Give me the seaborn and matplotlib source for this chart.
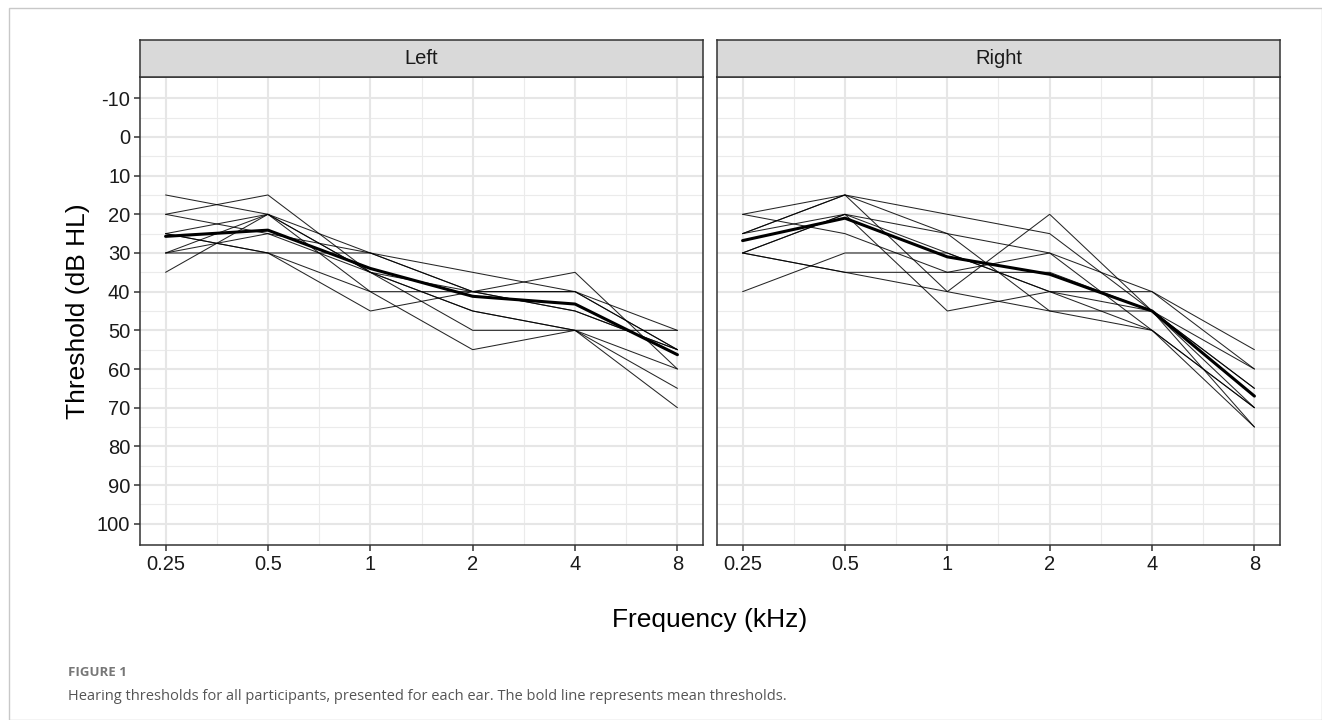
import numpy as np
import pandas as pd
import seaborn as sns
import matplotlib.pyplot as plt
from matplotlib.patches import Rectangle

freqs = [0.25, 0.5, 1, 2, 4, 8]
freq_labels = ["0.25", "0.5", "1", "2", "4", "8"]
ears = ["Left", "Right"]

# thresholds (dB HL) per participant
left_thr = [
    [15, 20, 30, 40, 40, 50],
    [20, 15, 35, 45, 50, 70],
    [20, 25, 30, 35, 40, 55],
    [25, 20, 35, 40, 45, 55],
    [25, 30, 40, 40, 35, 60],
    [30, 20, 35, 50, 50, 50],
    [30, 30, 30, 40, 45, 55],
    [35, 20, 40, 55, 50, 65],
    [25, 30, 45, 40, 40, 55],
    [30, 25, 35, 45, 50, 60],
]
right_thr = [
    [20, 15, 25, 30, 40, 55],
    [25, 15, 40, 20, 45, 65],
    [30, 20, 30, 40, 45, 70],
    [20, 25, 35, 30, 50, 75],
    [30, 35, 35, 35, 45, 60],
    [40, 30, 30, 40, 50, 70],
    [25, 20, 45, 40, 40, 60],
    [30, 20, 25, 45, 45, 75],
    [25, 15, 20, 25, 45, 65],
    [30, 35, 40, 45, 50, 70],
]
left_mean = [25.7, 24.1, 34.0, 41.2, 43.2, 56.3]
right_mean = [26.8, 21.0, 31.0, 35.5, 45.0, 67.0]

y_ticks = list(range(-10, 101, 10))

rows = []
for ear, thr in zip(ears, [left_thr, right_thr]):
    for pid, vals in enumerate(thr):
        for f, v in zip(freqs, vals):
            rows.append({"ear": ear, "pid": pid, "freq": f, "thr": v})
df = pd.DataFrame(rows)
mean_df = pd.DataFrame({
    "ear": np.repeat(ears, len(freqs)),
    "freq": freqs * 2,
    "thr": left_mean + right_mean,
})

sns.set_theme(style="white")
plt.rcParams["font.family"] = ["Liberation Sans", "DejaVu Sans"]

W, H = 1322, 720
fig = plt.figure(figsize=(W / 100, H / 100), dpi=100)
fig.patches.append(Rectangle((9 / W, 0), 1 - 9 / W, 1 - 8 / H, transform=fig.transFigure,
                             fill=False, edgecolor="#c8c8c8", lw=1.0))

panel_x = [(140, 703), (717, 1280)]
top, bottom = 77, 545
strip_top = 40

lo, hi = np.log2(freqs[0]), np.log2(freqs[-1])
pad = (hi - lo) * 0.05
xlim = (2 ** (lo - pad), 2 ** (hi + pad))
ylim = (105.5, -15.5)
minor_x = [2 ** (e + 0.5) for e in range(-2, 3)]
minor_y = list(range(-5, 100, 10))

for i, ear in enumerate(ears):
    x0, x1 = panel_x[i]
    ax = fig.add_axes([x0 / W, 1 - bottom / H, (x1 - x0) / W, (bottom - top) / H])
    ax.set_xscale("log", base=2)
    ax.set_xlim(xlim)
    ax.set_ylim(ylim)
    for m in minor_x:
        ax.axvline(m, color="#ebebeb", lw=0.8, zorder=0)
    for m in minor_y:
        ax.axhline(m, color="#ebebeb", lw=0.8, zorder=0)
    for f in freqs:
        ax.axvline(f, color="#e6e6e6", lw=1.5, zorder=0)
    for t in y_ticks:
        ax.axhline(t, color="#e6e6e6", lw=1.5, zorder=0)

    sub = df[df["ear"] == ear]
    sns.lineplot(data=sub, x="freq", y="thr", units="pid", estimator=None,
                 color="black", lw=0.75, alpha=0.85, ax=ax, legend=False)
    sns.lineplot(data=mean_df[mean_df["ear"] == ear], x="freq", y="thr",
                 color="black", lw=2.2, ax=ax, legend=False)

    ax.set_xticks(freqs)
    ax.set_xticklabels(freq_labels)
    ax.set_xticks([], minor=True)
    ax.set_xlabel("")
    ax.set_ylabel("")
    ax.tick_params(axis="both", which="major", length=4, width=1.1, color="#333333",
                   labelsize=14.5, labelcolor="#1a1a1a", pad=3, bottom=True, left=True)
    ax.set_yticks(y_ticks)
    if i == 0:
        ax.set_yticklabels([str(t) for t in y_ticks])
    else:
        ax.tick_params(axis="y", left=False, labelleft=False)
    for s in ax.spines.values():
        s.set_color("#333333")
        s.set_linewidth(1.1)

    sax = fig.add_axes([x0 / W, 1 - top / H, (x1 - x0) / W, (top - strip_top) / H])
    sax.set_facecolor("#d9d9d9")
    sax.set_xticks([])
    sax.set_yticks([])
    for s in sax.spines.values():
        s.set_color("#333333")
        s.set_linewidth(1.1)
    sax.text(0.5, 0.5, ear, ha="center", va="center", fontsize=14.5, color="#1a1a1a",
             transform=sax.transAxes)

fig.text(78 / W, 1 - 311 / H, "Threshold (dB HL)", rotation=90, ha="center", va="center",
         fontsize=19, color="black")
fig.text(710 / W, 1 - 620 / H, "Frequency (kHz)", ha="center", va="center",
         fontsize=19, color="black")

fig.text(68 / W, 1 - 673 / H, "FIGURE 1", ha="left", va="center", fontsize=9.5,
         fontweight="bold", color="#777777", family=["Open Sans", "DejaVu Sans"])
fig.text(68 / W, 1 - 696 / H,
         "Hearing thresholds for all participants, presented for each ear. "
         "The bold line represents mean thresholds.",
         ha="left", va="center", fontsize=10.5, color="#555555",
         family=["Open Sans", "DejaVu Sans"])

fig.savefig("out.png", dpi=100)
